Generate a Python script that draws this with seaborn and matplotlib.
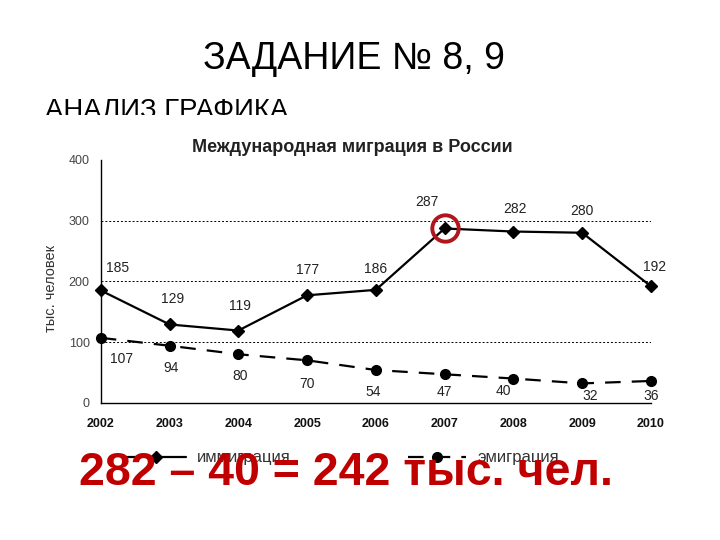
import matplotlib
matplotlib.use('Agg')
import matplotlib.pyplot as plt
import seaborn as sns
from matplotlib.patches import Rectangle

sns.set_style("white")
plt.rcParams['font.family'] = ['Liberation Sans', 'DejaVu Sans']

# -----------------------------------------------------------------
# DATA
# -----------------------------------------------------------------
years = [2002, 2003, 2004, 2005, 2006, 2007, 2008, 2009, 2010]
immigration = [185, 129, 119, 177, 186, 287, 282, 280, 192]
emigration = [107, 94, 80, 70, 54, 47, 40, 32, 36]
y_ticks = [0, 100, 200, 300, 400]

slide_title = 'ЗАДАНИЕ № 8, 9'
slide_subtitle = 'АНАЛИЗ ГРАФИКА'
chart_title = 'Международная миграция в России'
y_label = 'тыс. человек'
series_names = ['иммиграция', 'эмиграция']
answer = '282 – 40 = 242 тыс. чел.'
highlight_year, highlight_value = 2007, 287

# label offsets in points (style only)
imm_offsets = [(12, 16), (2, 18), (1, 18), (0, 18), (0, 15), (-13, 19), (1, 16), (0, 16), (3, 14)]
emi_offsets = [(15, -15), (1, -16), (1, -16), (0, -17), (-2, -16), (0, -13), (-7, -9), (6, -9), (0, -11)]

# -----------------------------------------------------------------
# FIGURE
# -----------------------------------------------------------------
fig = plt.figure(figsize=(7.2, 5.4), dpi=100)
fig.patch.set_facecolor('white')

fig.text(0.492, 0.89, slide_title, ha='center', va='center', fontsize=27, color='black')
fig.text(0.062, 0.782, slide_subtitle, ha='left', va='baseline', fontsize=19.8, color='black', zorder=1)
# white chart picture covers the bottom of the subtitle
fig.patches.append(Rectangle((0.05, 0.17), 0.9, 0.617, transform=fig.transFigure,
                             facecolor='white', edgecolor='none', zorder=2))

ax = fig.add_axes([0.140, 0.254, 0.764, 0.450])
ax.set_zorder(3)
ax.patch.set_alpha(0)

sns.lineplot(x=years, y=immigration, ax=ax, color='black', linewidth=1.6,
             marker='D', markersize=6.5, markeredgecolor='black', markeredgewidth=1,
             legend=False, clip_on=False, label=series_names[0])
sns.lineplot(x=years, y=emigration, ax=ax, color='black', linewidth=1.6,
             linestyle=(0, (7, 5)), marker='o', markersize=7, markeredgecolor='black',
             markeredgewidth=1, legend=False, clip_on=False, label=series_names[1])

for x, v, (dx, dy) in zip(years, immigration, imm_offsets):
    ax.annotate(str(v), (x, v), xytext=(dx, dy), textcoords='offset points',
                ha='center', va='center', fontsize=10, color='#222222')
for x, v, (dx, dy) in zip(years, emigration, emi_offsets):
    ax.annotate(str(v), (x, v), xytext=(dx, dy), textcoords='offset points',
                ha='center', va='center', fontsize=10, color='#222222')

# red circle around the 2007 peak
ax.plot([highlight_year], [highlight_value], marker='o', markersize=19, markerfacecolor='none',
        markeredgecolor='#B0161C', markeredgewidth=2.8, clip_on=False, zorder=5)

ax.set_xlim(years[0], years[-1])
ax.set_ylim(y_ticks[0], y_ticks[-1])
ax.set_xticks(years)
ax.set_xticklabels([str(y) for y in years], fontsize=9, fontweight='bold', color='#111111')
ax.set_yticks(y_ticks)
ax.set_yticklabels([str(t) for t in y_ticks], fontsize=9, color='#444444')
ax.tick_params(axis='both', direction='out', length=4, width=1, color='black', pad=4)
ax.tick_params(axis='x', pad=7)
ax.set_xlabel('')
ax.set_ylabel(y_label, fontsize=10.5, color='#333333')
ax.yaxis.set_label_coords(-0.078, 0.47)
for s in ['top', 'right']:
    ax.spines[s].set_visible(False)
for s in ['left', 'bottom']:
    ax.spines[s].set_color('black')
    ax.spines[s].set_linewidth(1)

ax.yaxis.grid(True, color='black', linestyle=(0, (2, 2)), linewidth=0.7)
ax.get_ygridlines()[0].set_visible(False)
ax.get_ygridlines()[-1].set_visible(False)

ax.set_title(chart_title, fontsize=13, fontweight='bold', color='#222222', pad=6, x=0.458)

handles = ax.lines[:2]
leg = fig.legend(handles, series_names, loc='center left', bbox_to_anchor=(0.156, 0.152),
                 ncol=2, frameon=False, fontsize=12, handlelength=3.5, handletextpad=0.7,
                 columnspacing=7, labelcolor='#333333')
leg.set_zorder(4)

fig.text(0.48, 0.102, answer, ha='center', va='baseline', fontsize=33.5, fontweight='bold',
         color='#C00000', zorder=10)

plt.savefig('out.png', dpi=100, facecolor='white')
